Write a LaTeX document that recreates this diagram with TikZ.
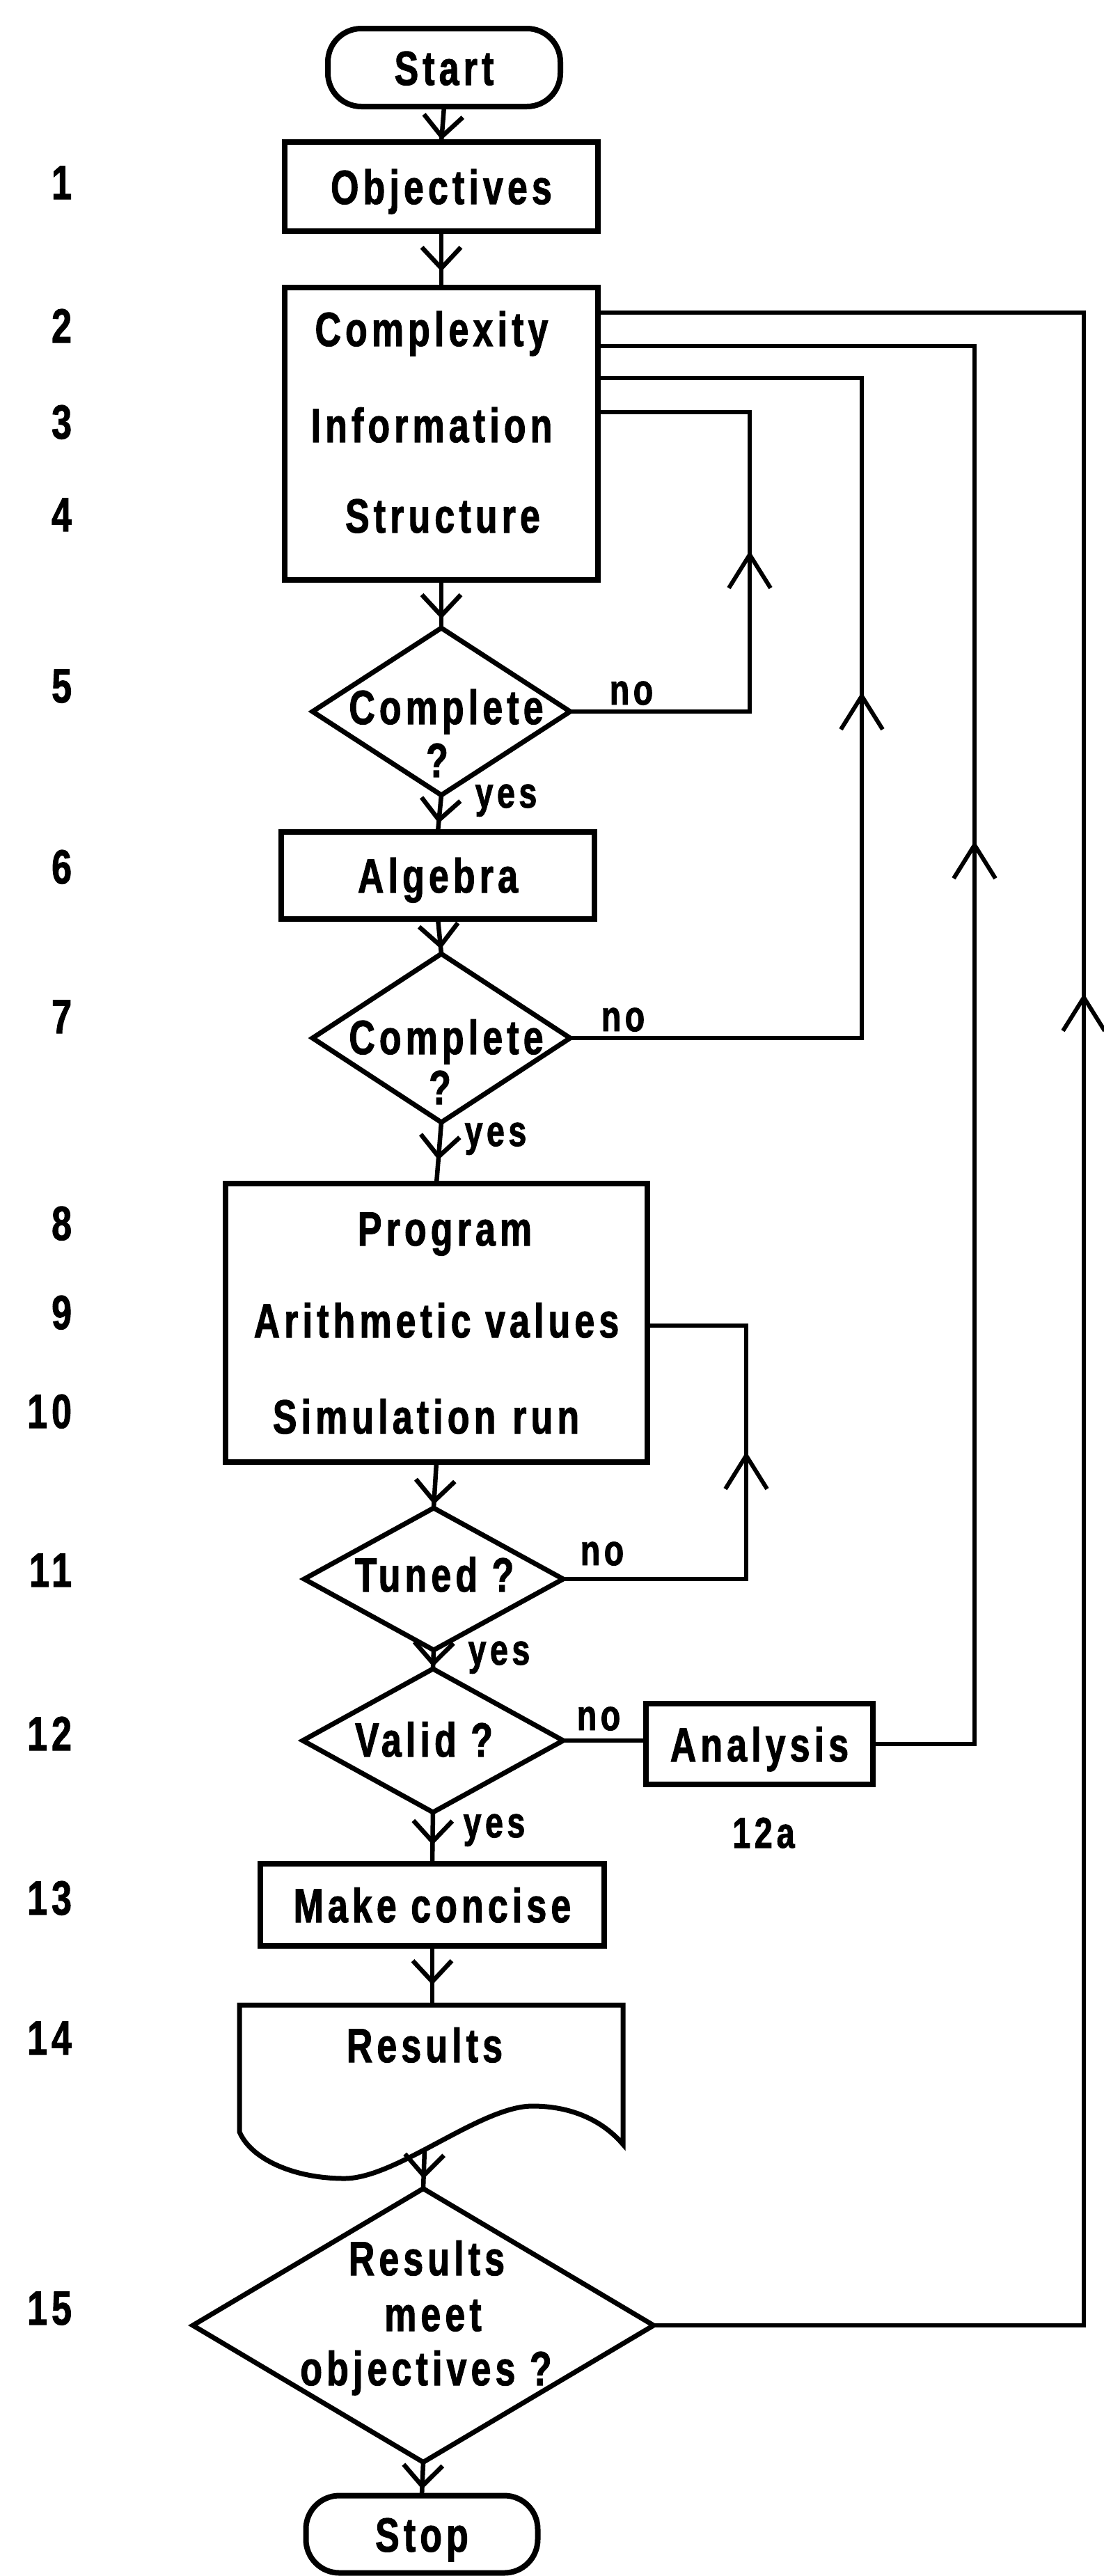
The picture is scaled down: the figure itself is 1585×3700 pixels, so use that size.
\documentclass[tikz,border=0pt]{standalone}
\usepackage{fontspec}
\setmainfont{Liberation Sans}[FakeStretch=0.75, LetterSpace=9, FakeBold=1.5]
\usetikzlibrary{shapes.geometric,arrows.meta,decorations.markings}
\tikzset{
  bigfont/.style={font=\fontsize{69}{80}\selectfont\bfseries},
  smallfont/.style={font=\fontsize{62}{72}\selectfont\bfseries},
  txt/.style={bigfont, inner sep=0pt, outer sep=0pt, anchor=base},
  yn/.style={smallfont, inner sep=0pt, outer sep=0pt, anchor=base},
  num/.style={bigfont, inner sep=0pt, outer sep=0pt, anchor=base east},
  box/.style={draw, line width=8pt, inner sep=0pt, outer sep=0pt, bigfont, text height=50pt, text depth=0pt},
  term/.style={box, rounded corners=48pt},
  dec/.style={draw, shape=diamond, line width=7pt, inner sep=0pt, outer sep=0pt},
  conn/.style={line width=6.5pt},
  fbconn/.style={line width=6pt},
  flow/.style={conn, postaction={decorate}, decoration={markings, mark=at position #1 with {\arrow{Straight Barb[length=30pt,width=56pt]}}}},
  upflow/.style={fbconn, postaction={decorate}, decoration={markings, mark=at position #1 with {\arrow{Straight Barb[length=48pt,width=60pt]}}}},
}
\begin{document}
\begin{tikzpicture}[x=1pt,y=-1pt]
\fill[white] (0,0) rectangle (1585,3700);
\useasboundingbox (0,0) rectangle (1585,3700);

% main column
\node[term, minimum width=334pt, minimum height=112pt] (start) at (638,97) {Start};
\node[box, minimum width=450pt, minimum height=128pt] (obj) at (634,268) {Objectives};
\node[box, minimum width=450pt, minimum height=420pt] (blk) at (634,623) {};
\node[txt] (t2) at (620,497) {Complexity};
\node[txt] (t3) at (620,635) {Information};
\node[txt] (t4) at (636,765) {Structure};
\node[dec, minimum width=370pt, minimum height=240pt] (d5) at (634,1022) {};
\node[txt] (t5a) at (641,1040) {Complete};
\node[txt] (t5b) at (628,1116) {?};
\node[box, minimum width=450pt, minimum height=125pt] (alg) at (629,1257) {Algebra};
\node[dec, minimum width=370pt, minimum height=242pt] (d7) at (634,1491) {};
\node[txt] (t7a) at (641,1514) {Complete};
\node[txt] (t7b) at (632,1586) {?};
\node[box, minimum width=606pt, minimum height=400pt] (prog) at (627,1900) {};
\node[txt] (t8) at (639,1789) {Program};
\node[txt] (t9) at (627,1921) {Arithmetic values};
\node[txt] (t10) at (612,2059) {Simulation\hspace{24pt}run};
\node[dec, minimum width=372pt, minimum height=204pt] (d11) at (623,2268) {};
\node[txt] (t11) at (624,2286) {Tuned ?};
\node[dec, minimum width=374pt, minimum height=206pt] (d12) at (622,2500) {};
\node[txt] (t12) at (609,2523) {Valid ?};
\node[box, minimum width=326pt, minimum height=116pt] (ana) at (1091,2505) {Analysis};
\node[yn] (t12a) at (1097,2654) {12\hspace{6pt}a};
\node[box, minimum width=494pt, minimum height=118pt] (mc) at (621,2736) {Make concise};
\draw[line width=7pt] (344,2880) -- (895,2880) -- (895,3080)
  .. controls (865,3045) and (820,3025) .. (765,3025)
  .. controls (690,3025) and (570,3129) .. (495,3129)
  .. controls (420,3129) and (360,3100) .. (344,3062) -- cycle;
\node[txt] (t14) at (610,2962) {Results};
\coordinate (restop) at (621,2880);
\coordinate (resbot) at (610,3087);
\node[dec, minimum width=662pt, minimum height=393pt] (d15) at (608,3340) {};
\node[txt] (t15a) at (613,3268) {Results};
\node[txt] (t15b) at (622,3348) {meet};
\node[txt] (t15c) at (612,3426) {objectives ?};
\node[term, minimum width=333pt, minimum height=111pt] (stop) at (606,3640) {Stop};

% step numbers
\node[num] (n1) at (103,286) {1};
\node[num] (n2) at (103,492) {2};
\node[num] (n3) at (103,630) {3};
\node[num] (n4) at (103,763) {4};
\node[num] (n5) at (103,1009) {5};
\node[num] (n6) at (103,1269) {6};
\node[num] (n7) at (103,1484) {7};
\node[num] (n8) at (103,1781) {8};
\node[num] (n9) at (103,1909) {9};
\node[num] (n10) at (103,2051) {10};
\node[num] (n11) at (103,2279) {11};
\node[num] (n12) at (103,2514) {12};
\node[num] (n13) at (103,2750) {13};
\node[num] (n14) at (103,2951) {14};
\node[num] (n15) at (103,3339) {15};

% yes / no labels
\node[yn] (no5) at (907,1012) {no};
\node[yn] (yes5) at (727,1160) {yes};
\node[yn] (no7) at (895,1481) {no};
\node[yn] (yes7) at (712,1646) {yes};
\node[yn] (no11) at (865,2248) {no};
\node[yn] (yes11) at (717,2391) {yes};
\node[yn] (no12) at (860,2485) {no};
\node[yn] (yes12) at (710,2639) {yes};

% main flow
\draw[flow=-3pt] (start.south) -- (obj.north);
\draw[flow=-23pt] (obj.south) -- (blk.north);
\draw[flow=-13pt] (blk.south) -- (d5.north);
\draw[flow=-12pt] (d5.south) -- (alg.north);
\draw[flow=-7pt] (alg.south) -- (d7.north);
\draw[flow=-34pt] (d7.south) -- (prog.north);
\draw[flow=-5pt] (prog.south) -- (d11.north);
\draw[flow=-3pt] (d11.south) -- (d12.north);
\draw[flow=-27pt] (d12.south) -- (mc.north);
\draw[flow=-29pt] (mc.south) -- (restop);
\draw[flow=-14pt] (resbot) -- (d15.north);
\draw[flow=-9pt] (d15.south) -- (stop.north);

% feedback loops
\coordinate (fb1) at (1557,449);
\coordinate (fb2) at (1400,497);
\coordinate (fb3) at (1238,543);
\coordinate (fb4) at (1077,592);
\coordinate (fb5) at (1072,1904);
\draw[upflow=2531pt] (d15.east) -| (fb1) -- (blk.east |- fb1);
\draw[upflow=1443pt] (ana.east) -| (fb2) -- (blk.east |- fb2);
\draw[upflow=916pt] (d7.east) -| (fb3) -- (blk.east |- fb3);
\draw[upflow=489pt] (d5.east) -| (fb4) -- (blk.east |- fb4);
\draw[upflow=446pt] (d11.east) -| (fb5) -- (prog.east |- fb5);
\draw[fbconn] (d12.east) -- (d12.east -| ana.west);
\end{tikzpicture}
\end{document}
